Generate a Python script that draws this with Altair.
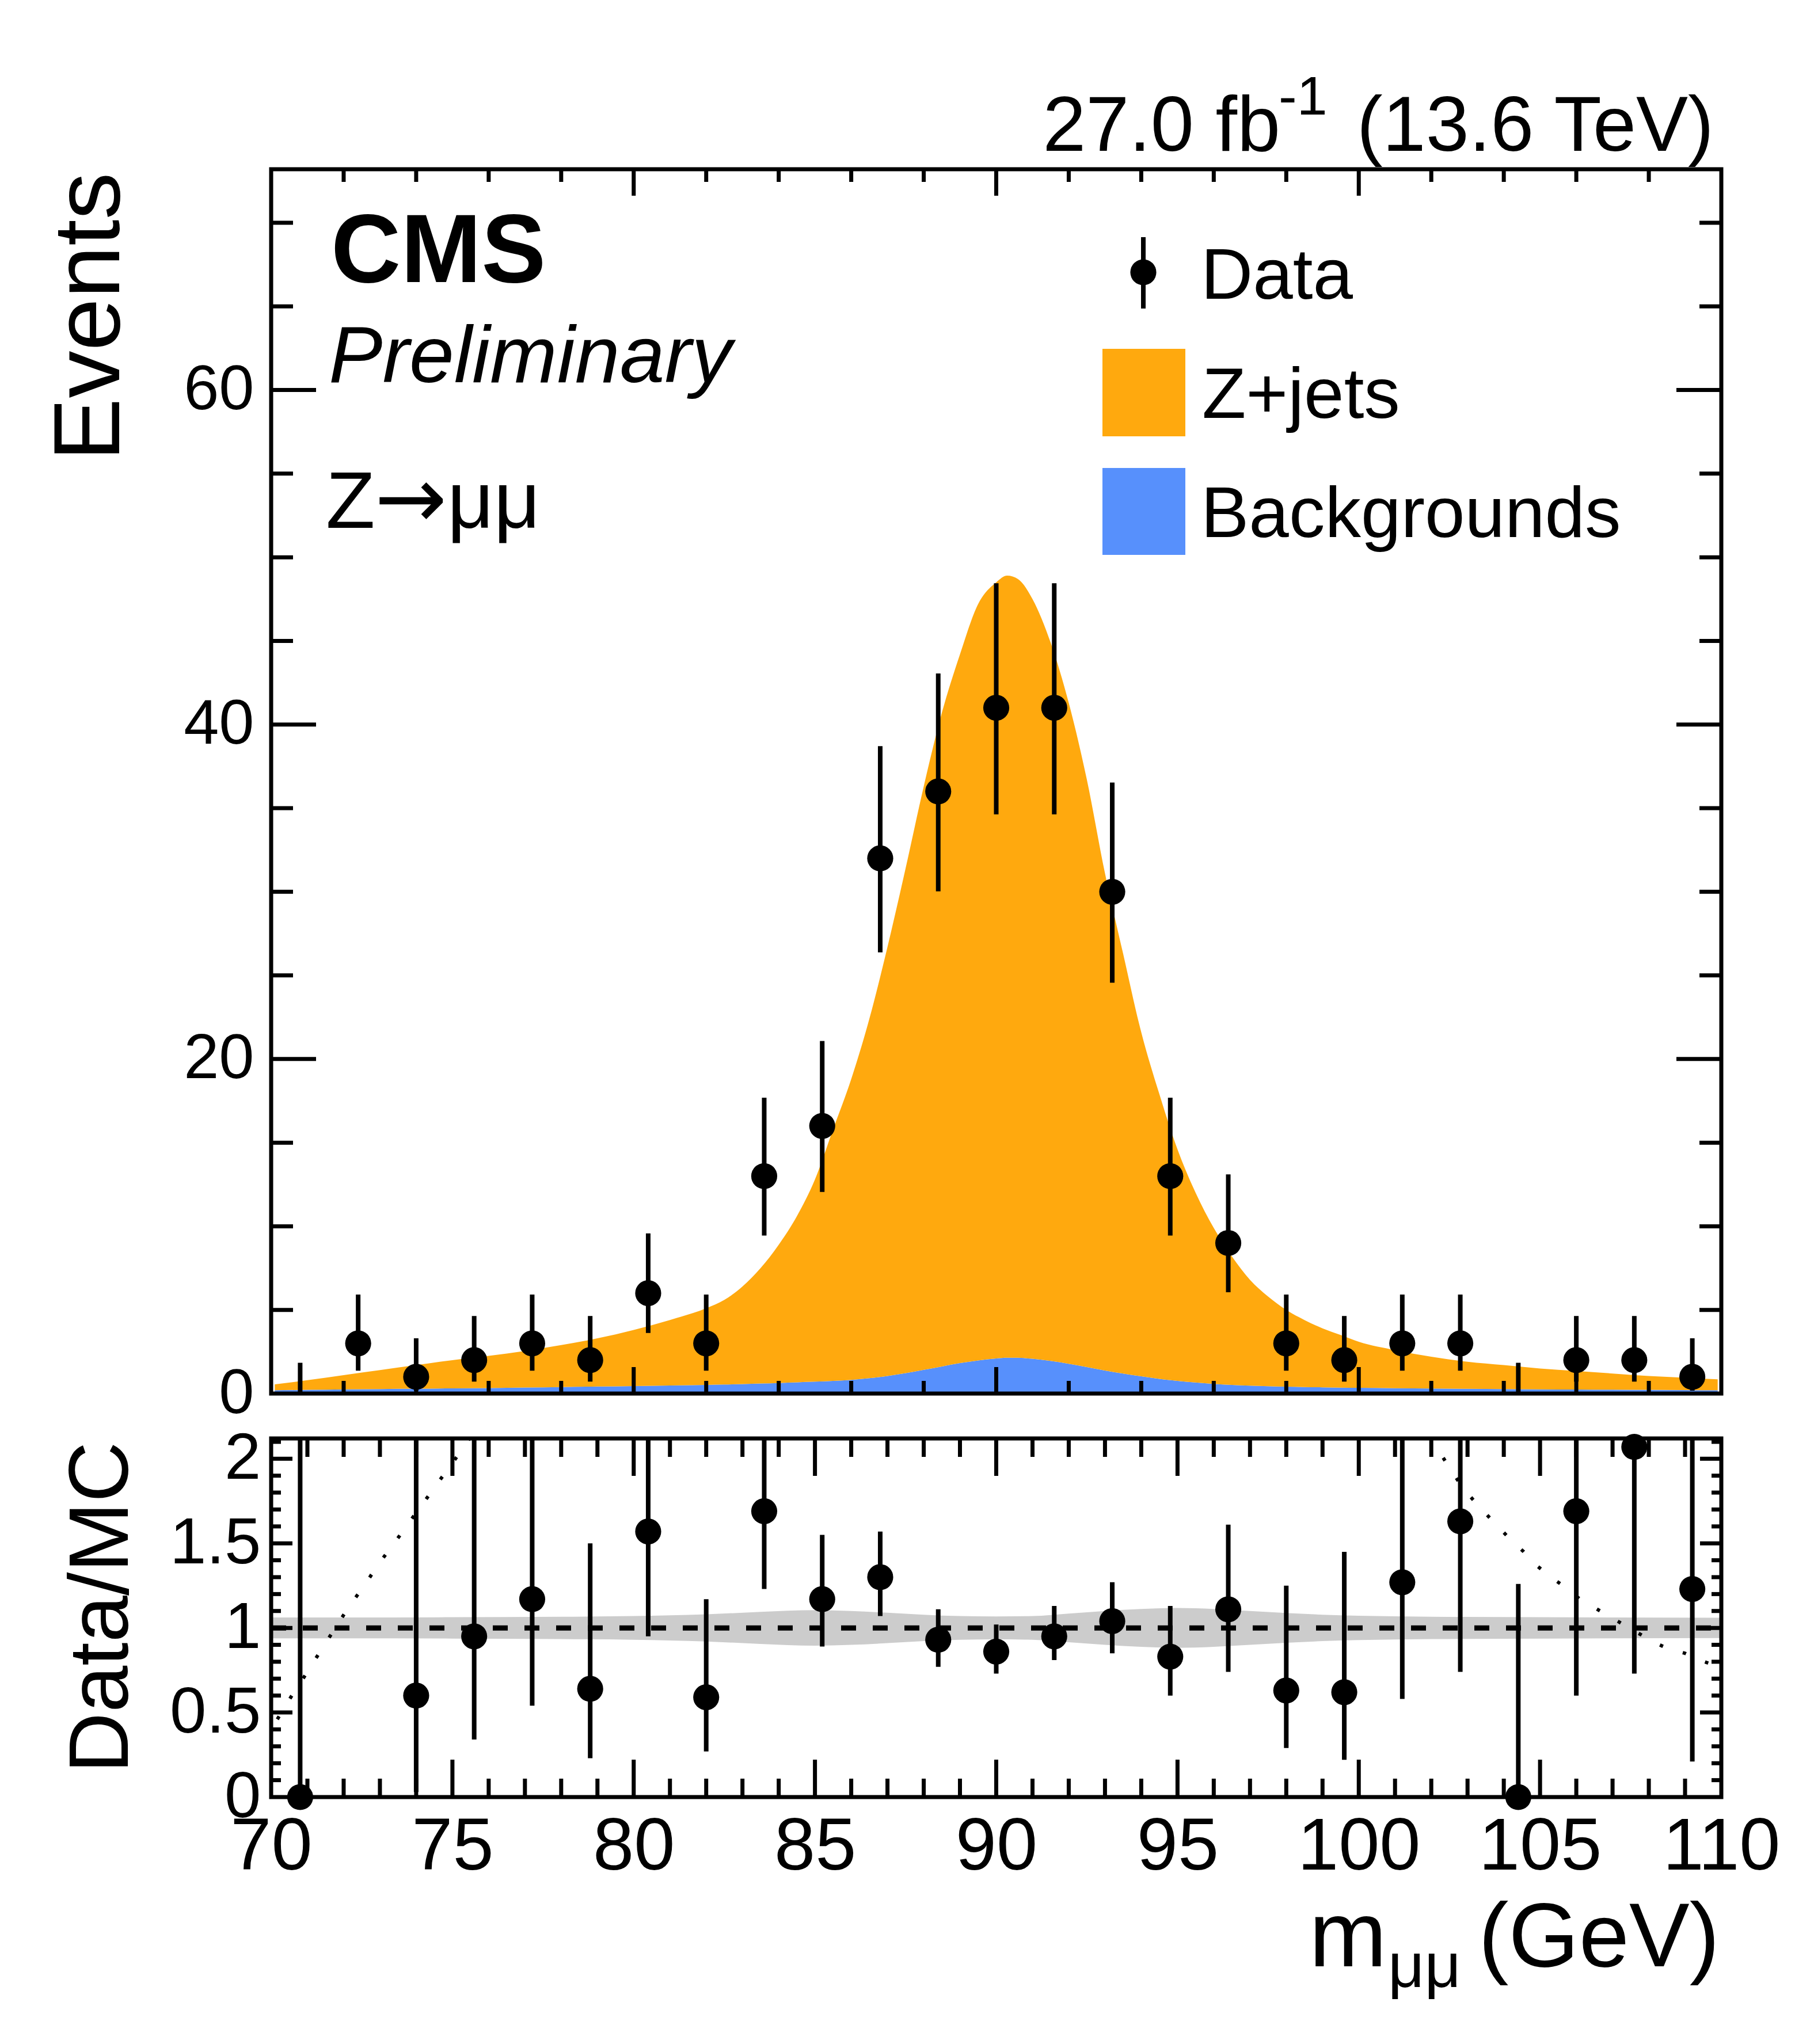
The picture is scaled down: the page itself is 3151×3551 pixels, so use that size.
import altair as alt
import pandas as pd

FONT = "Liberation Sans"
ORANGE = "#ffa90e"
BLUE = "#5790fc"
GREY = "#cccccc"
W, H_MAIN, H_RATIO = 2519, 2127, 623
LW = 7

# ---------------- data ----------------
bin_centers = [70.8, 72.4, 74.0, 75.6, 77.2, 78.8, 80.4, 82.0, 83.6, 85.2, 86.8, 88.4, 90.0,
               91.6, 93.2, 94.8, 96.4, 98.0, 99.6, 101.2, 102.8, 104.4, 106.0, 107.6, 109.2]
counts = [0, 3, 1, 2, 3, 2, 6, 3, 13, 16, 32, 36, 41, 41, 30, 13, 9, 3, 2, 3, 3, 0, 2, 2, 1]
err_low = [0, 1.37, 0.17, 0.71, 1.37, 0.71, 3.62, 1.37, 9.45, 12.05, 26.38, 30.03, 34.63,
           34.63, 24.56, 9.45, 6.06, 1.37, 0.71, 1.37, 1.37, 0, 0.71, 0.71, 0.17]
err_high = [1.84, 5.92, 3.30, 4.64, 5.92, 4.64, 9.58, 5.92, 17.69, 21.08, 38.71, 43.05, 48.45,
            48.45, 36.53, 17.69, 13.10, 5.92, 4.64, 5.92, 5.92, 1.84, 4.64, 4.64, 3.30]

curve_x = [70.1, 71, 72, 73, 74, 75, 76, 77, 78, 79,
           80, 81, 82, 82.5, 83, 83.5, 84, 84.5, 85, 85.5,
           86, 86.5, 87, 87.5, 88, 88.5, 89, 89.5, 90, 90.3,
           90.6, 91, 91.5, 92, 92.5, 93, 93.5, 94, 94.5, 95,
           95.5, 96, 96.5, 97, 97.5, 98, 98.5, 99, 99.5, 100,
           101, 102, 103, 104, 105, 106, 107, 108, 109, 109.9]
total_mc = [0.55, 0.8, 1.1, 1.4, 1.7, 2.0, 2.25, 2.55, 2.9, 3.3,
            3.8, 4.4, 5.1, 5.6, 6.4, 7.5, 8.9, 10.6, 12.8, 15.8,
            18.8, 22.4, 26.7, 31.4, 36.3, 40.7, 44.2, 47.2, 48.5, 48.9,
            48.7, 47.5, 44.9, 41.3, 36.7, 31.1, 26.3, 21.6, 17.9, 14.6,
            12.0, 9.9, 8.2, 6.8, 5.8, 5.0, 4.4, 3.9, 3.5, 3.1,
            2.6, 2.2, 1.9, 1.7, 1.5, 1.35, 1.2, 1.05, 0.95, 0.85]
backgrounds = [0.2, 0.22, 0.25, 0.27, 0.29, 0.31, 0.33, 0.36, 0.39, 0.42,
               0.45, 0.48, 0.52, 0.54, 0.57, 0.6, 0.63, 0.67, 0.71, 0.76,
               0.82, 0.92, 1.05, 1.22, 1.42, 1.62, 1.82, 1.98, 2.1, 2.14,
               2.14, 2.08, 1.95, 1.78, 1.58, 1.38, 1.2, 1.03, 0.88, 0.76,
               0.66, 0.58, 0.52, 0.47, 0.44, 0.41, 0.39, 0.37, 0.35, 0.34,
               0.32, 0.3, 0.28, 0.27, 0.25, 0.24, 0.23, 0.22, 0.21, 0.2]

ratio_x = [70.8, 74.0, 75.6, 77.2, 78.8, 80.4, 82.0, 83.6, 85.2, 86.8, 88.4, 90.0,
           91.6, 93.2, 94.8, 96.4, 98.0, 99.6, 101.2, 102.8, 104.4, 106.0, 107.6, 109.2]
ratio_val = [0, 0.60, 0.95, 1.17, 0.64, 1.57, 0.59, 1.69, 1.17, 1.30, 0.93, 0.86,
             0.95, 1.04, 0.83, 1.11, 0.63, 0.62, 1.27, 1.63, 0, 1.69, 2.07, 1.23]
ratio_low = [0, 0.03, 0.34, 0.54, 0.23, 0.95, 0.27, 1.23, 0.89, 1.07, 0.77, 0.73,
             0.81, 0.85, 0.60, 0.74, 0.29, 0.22, 0.58, 0.74, 0, 0.60, 0.73, 0.21]
ratio_high = [2.6, 2.6, 2.6, 2.6, 1.50, 2.6, 1.17, 2.6, 1.55, 1.57, 1.11, 1.02,
              1.13, 1.27, 1.13, 1.61, 1.25, 1.45, 2.6, 2.6, 1.26, 2.6, 2.6, 2.6]

band_x = [70, 72, 75, 78, 80, 82, 83.5, 85, 86, 87, 88, 89, 90, 91, 92, 93, 94, 95,
          96, 97, 98, 99, 100, 102, 105, 110]
band_half = [0.062, 0.062, 0.063, 0.066, 0.07, 0.08, 0.095, 0.105, 0.1, 0.09, 0.078, 0.07,
             0.068, 0.07, 0.085, 0.1, 0.112, 0.118, 0.112, 0.1, 0.088, 0.078, 0.072,
             0.066, 0.063, 0.06]

dot_left_x = [70.17, 70.57, 70.97, 71.38, 71.77, 72.16, 72.57, 72.95, 73.36, 73.76, 74.17,
              74.57, 74.95, 75.35, 75.5]
dot_left_y = [0.46, 0.60, 0.73, 0.87, 1.00, 1.13, 1.25, 1.375, 1.49, 1.61, 1.73, 1.85,
              1.96, 2.08, 2.13]
dot_right_x = [102.0, 102.2, 102.55, 102.9, 103.35, 103.75, 104.15, 104.55, 104.9, 105.3,
               105.7, 106.1, 106.5, 106.9, 107.3, 107.7, 108.1, 108.5, 109.0, 109.4, 109.8]
dot_right_y = [2.13, 2.05, 1.93, 1.82, 1.71, 1.62, 1.53, 1.45, 1.37, 1.30, 1.24, 1.17, 1.12,
               1.07, 1.02, 0.97, 0.92, 0.88, 0.85, 0.81, 0.78]

main_x_major = [80, 90, 100]
main_x_minor = [72, 74, 76, 78, 82, 84, 86, 88, 92, 94, 96, 98, 102, 104, 106, 108]
main_y_major = [20, 40, 60]
main_y_minor = [5, 10, 15, 25, 30, 35, 45, 50, 55, 65, 70]
ratio_x_major = [75, 80, 85, 90, 95, 100, 105]
ratio_x_minor = [71, 72, 73, 74, 76, 77, 78, 79, 81, 82, 83, 84, 86, 87, 88, 89, 91, 92, 93,
                 94, 96, 97, 98, 99, 101, 102, 103, 104, 106, 107, 108, 109]
ratio_y_major = [0.5, 1.0, 1.5, 2.0]
ratio_y_minor = [0.1, 0.2, 0.3, 0.4, 0.6, 0.7, 0.8, 0.9, 1.1, 1.2, 1.3, 1.4, 1.6, 1.7, 1.8,
                 1.9, 2.1]
main_y_labels = [0, 20, 40, 60]
ratio_x_labels = [70, 75, 80, 85, 90, 95, 100, 105, 110]
ratio_y_labels = [0, 0.5, 1, 1.5, 2]

# ---------------- tables ----------------
data_df = pd.DataFrame({"m": bin_centers, "n": counts, "lo": err_low, "hi": err_high})
curve_df = pd.DataFrame({"m": curve_x, "total": total_mc, "bkg": backgrounds})
ratio_df = pd.DataFrame({"m": ratio_x, "r": ratio_val, "lo": ratio_low, "hi": ratio_high})
band_df = pd.DataFrame({"m": band_x, "h": band_half})
band_df["lo"] = 1 - band_df["h"]
band_df["hi"] = 1 + band_df["h"]
dots_df = pd.concat([
    pd.DataFrame({"m": dot_left_x, "r": dot_left_y, "seg": "a"}),
    pd.DataFrame({"m": dot_right_x, "r": dot_right_y, "seg": "b"}),
])
one_df = pd.DataFrame({"k": [0]})
unity_df = pd.DataFrame({"r": [1.0]})

xs_main = alt.Scale(domain=[70, 110], nice=False, zero=False)
ys_main = alt.Scale(domain=[0, 73.2], nice=False, zero=False)
xs_ratio = alt.Scale(domain=[70, 110], nice=False, zero=False)
ys_ratio = alt.Scale(domain=[0, 2.12], nice=False, zero=False)

COMMON_AX = dict(grid=False, domain=False, ticks=False, tickSize=0, labelFont=FONT,
                 titleFont=FONT, labelColor="black", titleColor="black",
                 titleFontWeight="normal", labelFlush=False, labelOverlap=False,
                 labelLimit=0)

AX_MAIN_Y = alt.Axis(
    values=main_y_labels, format="d", title="Events", titleFontSize=164,
    titleAngle=270, titleAlign="right", titleBaseline="alphabetic",
    titleX=-265, titleY=5, labelFontSize=110, labelPadding=30, **COMMON_AX)
AX_RATIO_X = alt.Axis(
    values=ratio_x_labels, format="d", title=None,
    labelFontSize=128, labelPadding=24, **COMMON_AX)
AX_RATIO_Y = alt.Axis(
    values=ratio_y_labels, format="~g", title="Data/MC", titleFontSize=146,
    titleAngle=270, titleAlign="right", titleBaseline="alphabetic",
    titleX=-250, titleY=5, labelFontSize=114, labelPadding=18, **COMMON_AX)


def X(field, panel):
    if panel == "main":
        return alt.X(field, scale=xs_main, axis=None)
    return alt.X(field, scale=xs_ratio, axis=AX_RATIO_X)


def Y(field, panel):
    if panel == "main":
        return alt.Y(field, scale=ys_main, axis=AX_MAIN_Y)
    return alt.Y(field, scale=ys_ratio, axis=AX_RATIO_Y)


def xtick_layers(vals, length, height, panel):
    base = alt.Chart(pd.DataFrame({"v": vals}))
    bot = base.mark_rule(color="black", strokeWidth=LW).encode(
        x=X("v:Q", panel), y=alt.value(height), y2=alt.value(height - length))
    top = base.mark_rule(color="black", strokeWidth=LW).encode(
        x=X("v:Q", panel), y=alt.value(0), y2=alt.value(length))
    return [bot, top]


def ytick_layers(vals, length, panel):
    base = alt.Chart(pd.DataFrame({"v": vals}))
    left = base.mark_rule(color="black", strokeWidth=LW).encode(
        y=Y("v:Q", panel), x=alt.value(0), x2=alt.value(length))
    right = base.mark_rule(color="black", strokeWidth=LW).encode(
        y=Y("v:Q", panel), x=alt.value(W), x2=alt.value(W - length))
    return [left, right]


def label(text, x, y, size, align="left", weight="normal", style="normal", font=FONT):
    return alt.Chart(one_df).mark_text(
        text=text, font=font, fontSize=size, align=align, baseline="alphabetic",
        fontWeight=weight, fontStyle=style, color="black"
    ).encode(x=alt.value(x), y=alt.value(y))


def box(x1, x2, y1, y2, color):
    return alt.Chart(one_df).mark_rect(color=color).encode(
        x=alt.value(x1), x2=alt.value(x2), y=alt.value(y1), y2=alt.value(y2))


def frame(height):
    return alt.Chart(one_df).mark_rect(filled=False, stroke="black", strokeWidth=LW).encode(
        x=alt.value(0), x2=alt.value(W), y=alt.value(0), y2=alt.value(height))


# ---------------- main panel ----------------
bkg_area = alt.Chart(curve_df).mark_area(color=BLUE, interpolate="monotone").encode(
    x=X("m:Q", "main"), y=Y("bkg:Q", "main"), y2=alt.value(H_MAIN))
zjets_area = alt.Chart(curve_df).mark_area(color=ORANGE, interpolate="monotone").encode(
    x=X("m:Q", "main"), y=Y("total:Q", "main"), y2="bkg:Q")
main_bars = alt.Chart(data_df).mark_rule(color="black", strokeWidth=8).encode(
    x=X("m:Q", "main"), y=Y("lo:Q", "main"), y2="hi:Q")
main_pts = alt.Chart(data_df).transform_filter("datum.n > 0").mark_circle(
    color="black", size=2040, opacity=1).encode(
    x=X("m:Q", "main"), y=Y("n:Q", "main"))

main_layers = [bkg_area, zjets_area]
main_layers += xtick_layers(main_x_minor, 22, H_MAIN, "main")
main_layers += xtick_layers(main_x_major, 46, H_MAIN, "main")
main_layers += ytick_layers(main_y_minor, 38, "main")
main_layers += ytick_layers(main_y_major, 78, "main")
main_layers += [main_bars, main_pts, frame(H_MAIN)]
main_layers += [
    label("CMS", 104, 196, 168, weight="bold"),
    label("Preliminary", 100, 370, 140, style="italic"),
    label("Z", 95, 623, 140),
    label("\u2192", 180, 623, 150, font="DejaVu Sans"),
    label("\u03bc\u03bc", 306, 623, 140),
    label("27.0 fb", 1753, -32, 135, align="right"),
    label("-1", 1750, -95, 95),
    label("(13.6 TeV)", 2506, -32, 135, align="right"),
    # legend
    alt.Chart(one_df).mark_rule(color="black", strokeWidth=8).encode(
        x=alt.value(1515), y=alt.value(118), y2=alt.value(242)),
    alt.Chart(one_df).mark_circle(color="black", size=2040, opacity=1).encode(
        x=alt.value(1515), y=alt.value(179)),
    label("Data", 1615, 225, 125),
    box(1444, 1588, 312, 464, ORANGE),
    label("Z+jets", 1617, 432, 125),
    box(1444, 1588, 519, 670, BLUE),
    label("Backgrounds", 1615, 639, 125),
]
main = alt.layer(*main_layers).properties(width=W, height=H_MAIN)

# ---------------- ratio panel ----------------
band = alt.Chart(band_df).mark_area(color=GREY, interpolate="monotone").encode(
    x=X("m:Q", "ratio"), y=Y("lo:Q", "ratio"), y2="hi:Q")
unity = alt.Chart(unity_df).mark_rule(color="black", strokeWidth=9, strokeDash=[26, 29]).encode(
    y=Y("r:Q", "ratio"), x=alt.value(0), x2=alt.value(W))
dots = alt.Chart(dots_df).mark_line(color="black", strokeWidth=6, strokeDash=[6, 36],
                                    clip=True).encode(
    x=X("m:Q", "ratio"), y=Y("r:Q", "ratio"), detail="seg:N")
ratio_bars = alt.Chart(ratio_df).mark_rule(color="black", strokeWidth=8, clip=True).encode(
    x=X("m:Q", "ratio"), y=Y("lo:Q", "ratio"), y2="hi:Q")
ratio_pts = alt.Chart(ratio_df).mark_circle(color="black", size=2040, opacity=1).encode(
    x=X("m:Q", "ratio"), y=Y("r:Q", "ratio"))

ratio_layers = [band, unity, dots]
ratio_layers += xtick_layers(ratio_x_minor, 32, H_RATIO, "ratio")
ratio_layers += xtick_layers(ratio_x_major, 65, H_RATIO, "ratio")
ratio_layers += ytick_layers(ratio_y_minor, 17, "ratio")
ratio_layers += ytick_layers(ratio_y_major, 37, "ratio")
ratio_layers += [ratio_bars, ratio_pts, frame(H_RATIO)]
ratio_layers += [
    label("m", 1938, 917, 162, align="right"),
    label("\u03bc\u03bc", 1940, 953, 110),
    label("(GeV)", 2516, 917, 157, align="right"),
]
ratio = alt.layer(*ratio_layers).properties(width=W, height=H_RATIO)

chart = alt.vconcat(main, ratio, spacing=78, bounds="flush").properties(
    padding={"left": 67, "top": 115, "right": 20, "bottom": 20},
    background="white",
).configure_view(stroke=None)

chart.save("out.html", embed_options={"renderer": "svg", "actions": False})
